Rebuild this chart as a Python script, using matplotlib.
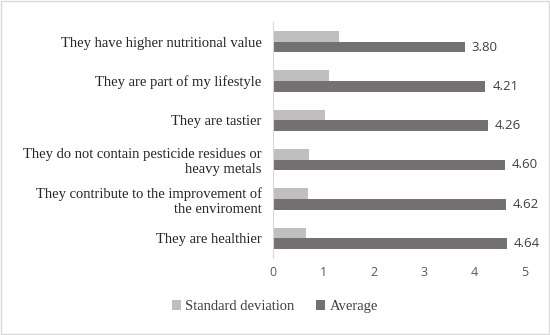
import matplotlib.pyplot as plt
import numpy as np

categories = ["They are healthier",
              "They contribute to the improvement of\nthe enviroment",
              "They do not contain pesticide residues or\nheavy metals",
              "They are tastier",
              "They are part of my lifestyle",
              "They have higher nutritional value"]
average = [4.64, 4.62, 4.60, 4.26, 4.21, 3.80]
std_dev = [0.65, 0.70, 0.71, 1.04, 1.11, 1.32]
x_ticks = [0, 1, 2, 3, 4, 5]

dark = "#767171"
light = "#bfbfbf"

fig = plt.figure(figsize=(5.5, 3.35), dpi=100)
ax = fig.add_axes([0.496, 0.23, 0.459, 0.704])

y = np.arange(len(categories))
h = 0.27
ax.barh(y - h / 2, average, height=h, color=dark, label="Average")
ax.barh(y + h / 2, std_dev, height=h, color=light, label="Standard deviation")

for yi, v in zip(y, average):
    ax.text(v + 0.14, yi - h / 2, f"{v:.2f}", va="center", ha="left",
            fontsize=9.5, color="#404040", family="Open Sans")

ax.set_xlim(0, 5)
ax.set_ylim(-0.5, len(categories) - 0.5)
ax.set_xticks(x_ticks)
ax.set_xticklabels([str(t) for t in x_ticks], family="Open Sans", fontsize=9, color="#595959")
ax.set_yticks(y)
ax.set_yticklabels(categories, family="Liberation Serif", fontsize=10.5, color="#262626")
ax.tick_params(length=0, pad=8)
ax.tick_params(axis="x", pad=6)

for s in ["top", "right", "bottom"]:
    ax.spines[s].set_visible(False)
ax.spines["left"].set_color("#d9d9d9")

handles, labels = ax.get_legend_handles_labels()
fig.legend(handles[::-1], labels[::-1], loc="center", bbox_to_anchor=(0.5, 0.085),
           ncol=2, frameon=False, prop={"family": "Liberation Serif", "size": 10.5},
           handlelength=0.6, handleheight=0.6, handletextpad=0.3, columnspacing=1.5,
           labelcolor="#404040")

fig.patches.append(plt.Rectangle((0.002, 0.003), 0.996, 0.994, transform=fig.transFigure,
                                 fill=False, edgecolor="#d9d9d9", linewidth=1))

fig.savefig("out.png", dpi=100)
